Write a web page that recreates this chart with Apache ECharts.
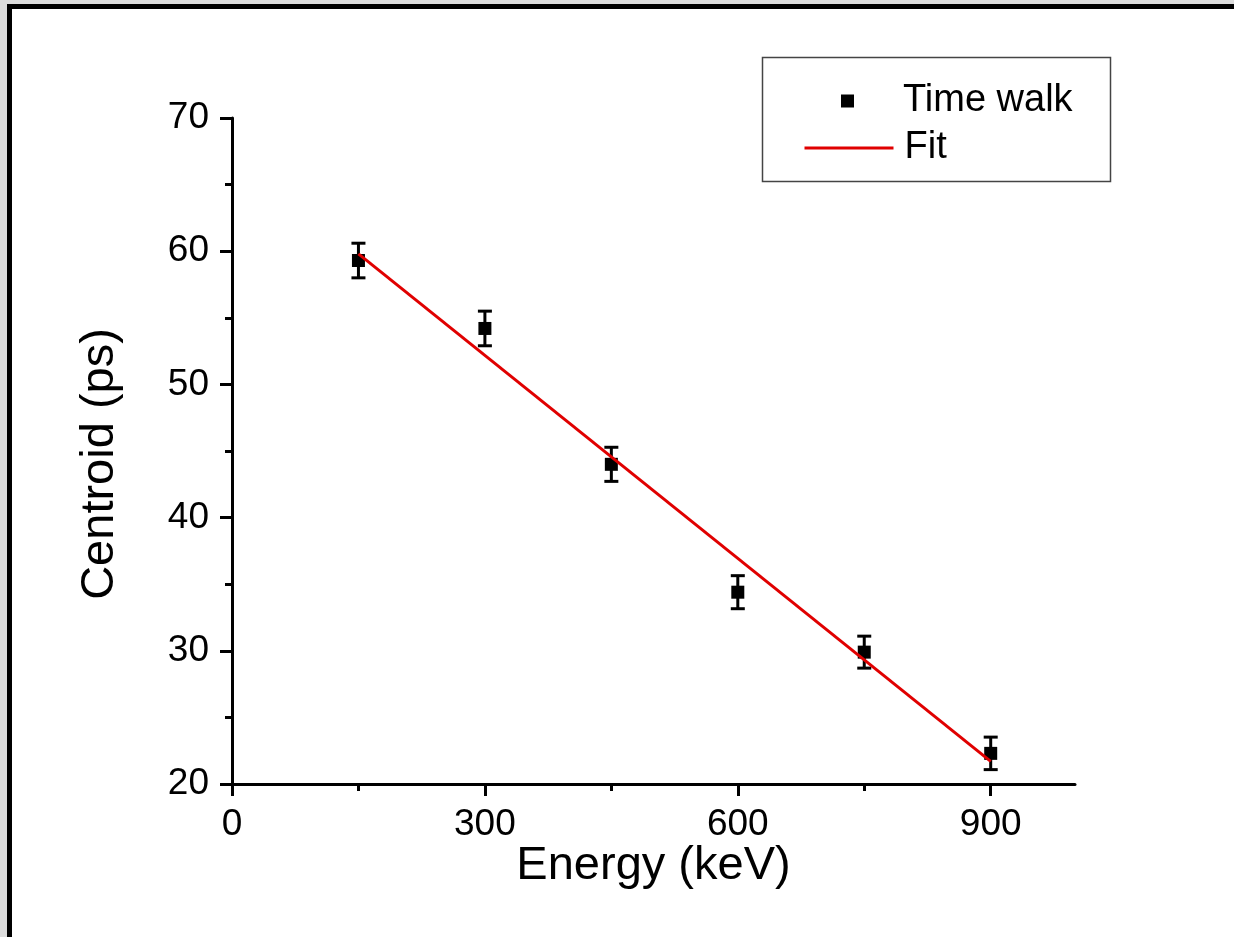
<!DOCTYPE html>
<html><head><meta charset="utf-8">
<script src="https://cdn.jsdelivr.net/npm/echarts@6/dist/echarts.min.js"></script>
<style>
html,body{margin:0;padding:0;background:#dcdcdc;width:1234px;height:937px;overflow:hidden}
#frame{position:absolute;left:7px;top:4px;right:0;bottom:0;border-left:5px solid #000;border-top:5px solid #000;background:#fff}
#chart{position:absolute;left:0;top:0;width:1234px;height:937px}
</style></head><body><div id="frame"></div><div id="chart"></div>
<script>
// Data
const energy = [150, 300, 450, 600, 750, 900];
const centroid = [59.3, 54.2, 44.0, 34.4, 29.9, 22.3];
const errorBar = [1.3, 1.3, 1.28, 1.24, 1.2, 1.22];
const fitX = [150, 900];
const fitY = [59.8, 21.7];
const xTicks = [0, 300, 600, 900];
const xMinorTicks = [150, 450, 750];

const FONT = '"Liberation Sans", Arial, sans-serif';
const points = energy.map((e, i) => [e, centroid[i]]);
const bars = energy.map((e, i) => [e, centroid[i] - errorBar[i], centroid[i] + errorBar[i]]);
const fitLine = fitX.map((x, i) => [x, fitY[i]]);

const chart = echarts.init(document.getElementById('chart'), null, {renderer: 'canvas'});
chart.setOption({
  animation: false,
  backgroundColor: 'transparent',
  grid: {left: 232, top: 118, right: 159, bottom: 153, containLabel: false},
  xAxis: [{
    type: 'value', min: 0, max: 1000, interval: 300,
    name: 'Energy (keV)', nameLocation: 'middle', nameGap: 59, nameMoveOverlap: false,
    nameTextStyle: {fontFamily: FONT, fontSize: 47, color: '#000'},
    axisLine: {show: true, onZero: false, lineStyle: {color: '#000', width: 3}},
    axisTick: {show: true, inside: false, length: 12, customValues: xTicks, lineStyle: {color: '#000', width: 3}},
    axisLabel: {show: true, customValues: xTicks, margin: 22, fontFamily: FONT, fontSize: 37, color: '#000'},
    splitLine: {show: false}
  }, {
    type: 'value', min: 0, max: 1000, gridIndex: 0, position: 'bottom',
    axisLine: {show: false},
    axisTick: {show: true, inside: false, length: 7, customValues: xMinorTicks, lineStyle: {color: '#000', width: 3}},
    axisLabel: {show: false},
    splitLine: {show: false}
  }],
  yAxis: {
    type: 'value', min: 20, max: 70, interval: 10,
    name: 'Centroid (ps)', nameLocation: 'middle', nameGap: 108, nameMoveOverlap: false,
    nameTextStyle: {fontFamily: FONT, fontSize: 47, color: '#000', padding: [0, 26, 0, 0]},
    axisLine: {show: true, onZero: false, lineStyle: {color: '#000', width: 3}},
    axisTick: {show: true, inside: false, length: 12, lineStyle: {color: '#000', width: 3}},
    minorTick: {show: true, splitNumber: 2, length: 7, lineStyle: {color: '#000', width: 3}},
    axisLabel: {margin: 23, fontFamily: FONT, fontSize: 37, color: '#000'},
    splitLine: {show: false}, minorSplitLine: {show: false}
  },
  legend: [{
    data: ['Time walk'], selectedMode: false, orient: 'vertical',
    left: 841, top: 82, padding: 0,
    itemWidth: 13, itemHeight: 13,
    itemStyle: {opacity: 1},
    textStyle: {fontFamily: FONT, fontSize: 38, color: '#000', padding: [0, 0, 0, 44]}
  }, {
    data: ['Fit'], selectedMode: false, orient: 'vertical',
    left: 803, top: 129, padding: 0,
    itemWidth: 89, itemHeight: 13,
    itemStyle: {opacity: 0, color: 'rgba(0,0,0,0)', borderWidth: 0},
    lineStyle: {color: '#e00000', width: 3},
    textStyle: {fontFamily: FONT, fontSize: 38, color: '#000', padding: [0, 0, 0, 6]}
  }],
  graphic: [{
    type: 'rect', z: -1,
    shape: {x: 762.5, y: 57.5, width: 348, height: 124},
    style: {fill: '#fff', stroke: '#444', lineWidth: 1.5}
  }],
  series: [{
    name: 'Error', type: 'custom', z: 2,
    data: bars,
    renderItem: function (params, api) {
      const x = api.value(0);
      const lo = api.coord([x, api.value(1)]);
      const hi = api.coord([x, api.value(2)]);
      const cap = 7;
      const st = {stroke: '#000', lineWidth: 3};
      return {type: 'group', children: [
        {type: 'line', shape: {x1: lo[0], y1: lo[1], x2: hi[0], y2: hi[1]}, style: st},
        {type: 'line', shape: {x1: lo[0] - cap, y1: lo[1], x2: lo[0] + cap, y2: lo[1]}, style: st},
        {type: 'line', shape: {x1: hi[0] - cap, y1: hi[1], x2: hi[0] + cap, y2: hi[1]}, style: st}
      ]};
    }
  }, {
    name: 'Time walk', type: 'scatter', z: 3,
    symbol: 'rect', symbolSize: 13,
    itemStyle: {color: '#000', opacity: 1},
    data: points
  }, {
    name: 'Fit', type: 'line', z: 4,
    symbol: 'none', showSymbol: false,
    lineStyle: {color: '#e00000', width: 3},
    itemStyle: {color: 'rgba(0,0,0,0)'},
    data: fitLine
  }]
});
</script></body></html>
